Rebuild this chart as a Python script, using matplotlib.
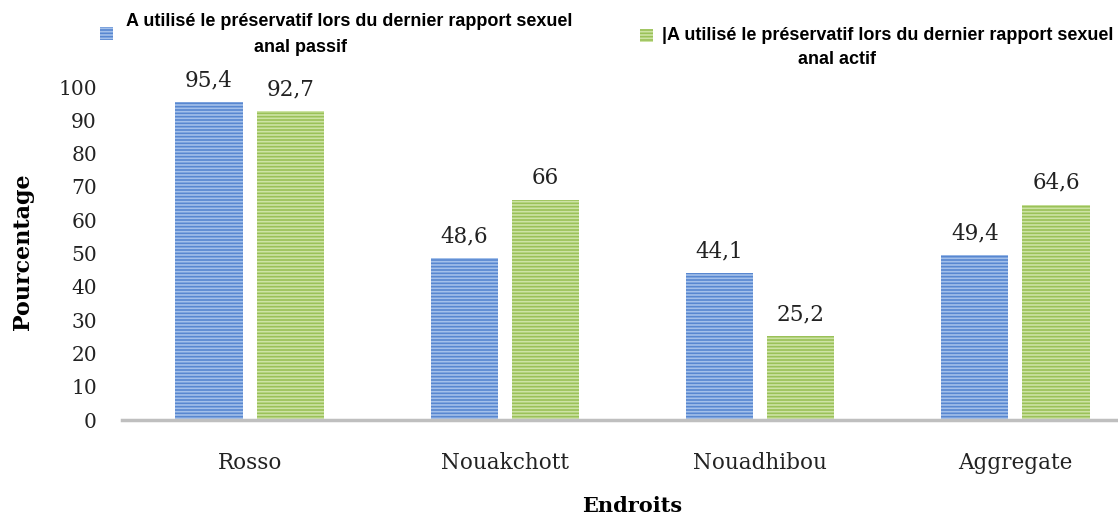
import matplotlib
matplotlib.use("Agg")
import matplotlib.pyplot as plt
from matplotlib.patches import Rectangle
import numpy as np

categories = ["Rosso", "Nouakchott", "Nouadhibou", "Aggregate"]
passif = [95.4, 48.6, 44.1, 49.4]
actif = [92.7, 66, 25.2, 64.6]
legend_line1 = ["A utilisé le préservatif lors du dernier rapport sexuel",
                "|A utilisé le préservatif lors du dernier rapport sexuel"]
legend_line2 = ["anal passif", "anal actif"]
yticks = [0, 10, 20, 30, 40, 50, 60, 70, 80, 90, 100]

blue_face, blue_hatch = "#5887d0", "#a3c0ea"
green_face, green_hatch = "#9ac158", "#cde3a4"

plt.rcParams["hatch.linewidth"] = 1.2
serif = ["DejaVu Serif"]
sans = ["Liberation Sans", "DejaVu Sans"]

W, H = 1118, 520
fig = plt.figure(figsize=(W / 100, H / 100), dpi=100)
ax = fig.add_axes([122 / W, 1 - 420 / H, 1021 / W, 333 / H])

x = np.arange(len(categories))
off = 0.159
bw = 0.263
b1 = ax.bar(x - off, passif, bw, color=blue_face, edgecolor=blue_hatch, linewidth=0, hatch="-----")
b2 = ax.bar(x + off, actif, bw, color=green_face, edgecolor=green_hatch, linewidth=0, hatch="-----")

def fmt(v):
    return ("%g" % v).replace(".", ",")

for bars, vals in ((b1, passif), (b2, actif)):
    for r, v in zip(bars, vals):
        ax.annotate(fmt(v), (r.get_x() + r.get_width() / 2, v), xytext=(0, 8),
                    textcoords="offset points", ha="center", va="bottom",
                    fontsize=15.5, family=serif, color="#222222")

ax.set_xlim(-0.5, len(categories) - 0.5)
ax.set_ylim(0, 100)
ax.set_yticks(yticks)
ax.set_yticklabels([str(t) for t in yticks], family=serif, fontsize=14.5)
ax.set_xticks(x)
ax.set_xticklabels(categories, family=serif, fontsize=15.5)
ax.tick_params(axis="y", length=0, pad=18, colors="#222222")
ax.tick_params(axis="x", length=0, pad=23, colors="#222222")
for s in ("top", "right", "left"):
    ax.spines[s].set_visible(False)
ax.spines["bottom"].set_color("#bfbfbf")
ax.spines["bottom"].set_linewidth(2.5)

fig.text(23 / W, 1 - 252 / H, "Pourcentage", rotation=90, ha="center", va="center",
         fontsize=16, fontweight="bold", family=serif)
fig.text(632 / W, 1 - 506 / H, "Endroits", ha="center", va="center",
         fontsize=15, fontweight="bold", family=serif)

# legend drawn manually
fig.patches.append(Rectangle((100 / W, 1 - 40 / H), 13 / W, 13 / H, transform=fig.transFigure,
                             facecolor=blue_face, edgecolor=blue_hatch, linewidth=0, hatch="-----"))
fig.text(349 / W, 1 - 22 / H, legend_line1[0], ha="center", va="center", fontsize=13,
         fontweight="bold", family=sans)
fig.text(301 / W, 1 - 48 / H, legend_line2[0], ha="center", va="center", fontsize=13,
         fontweight="bold", family=sans)
fig.patches.append(Rectangle((640 / W, 1 - 42 / H), 13 / W, 13 / H, transform=fig.transFigure,
                             facecolor=green_face, edgecolor=green_hatch, linewidth=0, hatch="-----"))
fig.text(888 / W, 1 - 35 / H, legend_line1[1], ha="center", va="center", fontsize=13,
         fontweight="bold", family=sans)
fig.text(837 / W, 1 - 60 / H, legend_line2[1], ha="center", va="center", fontsize=13,
         fontweight="bold", family=sans)

fig.savefig("out.png", dpi=100)
